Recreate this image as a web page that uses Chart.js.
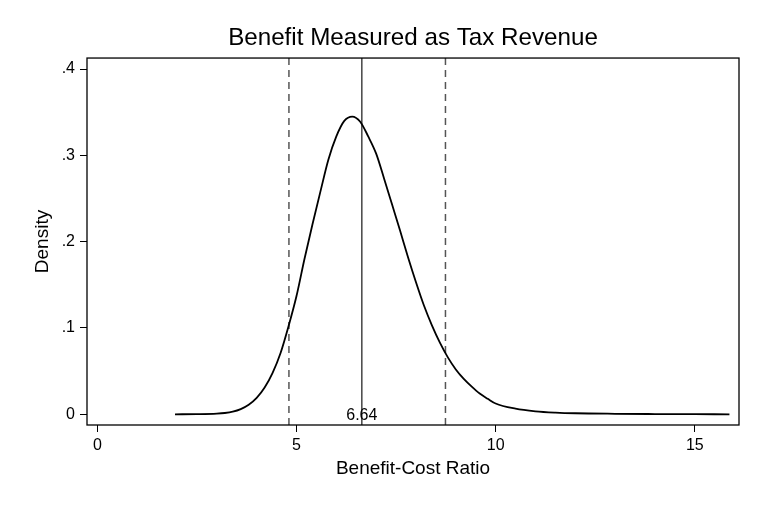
<!DOCTYPE html>
<html>
<head>
<meta charset="utf-8">
<script src="https://cdn.jsdelivr.net/npm/chart.js@4.4.1/dist/chart.umd.min.js"></script>
<style>
  html, body { margin: 0; padding: 0; background: #fff; }
  #wrap { width: 759px; height: 507px; }
</style>
</head>
<body>
<div id="wrap"><canvas id="c" width="759" height="507"></canvas></div>
<script>
// ---- data ----
const curveX = [1.95, 2.5, 3.0, 3.2, 3.4, 3.6, 3.8, 4.0, 4.2, 4.4, 4.6, 4.8, 5.0, 5.2, 5.4, 5.6, 5.8, 6.0, 6.2, 6.4, 6.6, 6.8, 7.0, 7.2, 7.4, 7.6, 7.8, 8.0, 8.2, 8.4, 8.6, 8.8, 9.0, 9.2, 9.4, 9.6, 9.8, 10.0, 10.5, 11.0, 11.5, 12.0, 13.0, 14.0, 15.0, 15.87];
const curveY = [0, 0.0002, 0.0008, 0.0015, 0.003, 0.006, 0.011, 0.019, 0.031, 0.048, 0.071, 0.102, 0.137, 0.180, 0.220, 0.258, 0.295, 0.322, 0.340, 0.345, 0.339, 0.322, 0.302, 0.273, 0.243, 0.213, 0.182, 0.153, 0.126, 0.103, 0.083, 0.066, 0.052, 0.041, 0.032, 0.024, 0.018, 0.0125, 0.0065, 0.0035, 0.002, 0.0012, 0.0006, 0.0003, 0.0001, 0];
const ciLower = 4.81;
const meanValue = 6.64;
const ciUpper = 8.74;
const meanLabel = "6.64";
const xTicks = [0, 5, 10, 15];
const yTicks = [0, 0.1, 0.2, 0.3, 0.4];
const yTickLabels = ["0", ".1", ".2", ".3", ".4"];
const xRange = [-0.26, 16.11];
const yRange = [-0.0124, 0.4128];
const titleText = "Benefit Measured as Tax Revenue";
const xTitle = "Benefit-Cost Ratio";
const yTitle = "Density";

const FONT = "'Liberation Sans', Arial, Helvetica, sans-serif";

const vline = (x, dashed, color) => ({
  data: [{x: x, y: yRange[0]}, {x: x, y: yRange[1]}],
  borderColor: color,
  borderWidth: 1.5,
  borderDash: dashed ? [7, 5] : [],
  pointRadius: 0,
  fill: false,
  tension: 0
});

const framePlugin = {
  id: 'frame',
  afterDatasetsDraw(chart) {
    const {ctx, chartArea: a, scales} = chart;
    ctx.save();
    ctx.strokeStyle = '#000';
    ctx.lineWidth = 1.3;
    ctx.strokeRect(a.left, a.top, a.right - a.left, a.bottom - a.top);
    ctx.fillStyle = '#000';
    ctx.font = "16px " + FONT;
    ctx.textAlign = 'center';
    ctx.textBaseline = 'middle';
    ctx.fillText(meanLabel, scales.x.getPixelForValue(meanValue), scales.y.getPixelForValue(0) + 1);
    ctx.restore();
  }
};

new Chart(document.getElementById('c'), {
  type: 'line',
  data: {
    datasets: [
      {
        data: curveX.map((x, i) => ({x: x, y: curveY[i]})),
        borderColor: '#000',
        borderWidth: 1.8,
        pointRadius: 0,
        fill: false,
        cubicInterpolationMode: 'monotone'
      },
      vline(ciLower, true, '#555'),
      vline(meanValue, false, '#444'),
      vline(ciUpper, true, '#555')
    ]
  },
  options: {
    responsive: false,
    animation: false,
    devicePixelRatio: 1,
    layout: { padding: { left: 0, right: 20, top: 0, bottom: 0 } },
    plugins: {
      legend: { display: false },
      tooltip: { enabled: false },
      title: {
        display: true,
        text: titleText,
        fullSize: false,
        color: '#000',
        font: { family: FONT, size: 24.2, weight: 'normal' },
        padding: { top: 24, bottom: 5 }
      }
    },
    scales: {
      x: {
        type: 'linear',
        min: xRange[0],
        max: xRange[1],
        afterBuildTicks: (s) => { s.ticks = xTicks.map(v => ({value: v})); },
        afterFit: (s) => { s.height = 82; },
        border: { display: false },
        grid: { drawOnChartArea: false, drawTicks: true, tickLength: 7, color: '#000', lineWidth: 1 },
        ticks: { color: '#000', font: { family: FONT, size: 16 }, padding: 4, maxRotation: 0,
                 callback: (v) => String(v) },
        title: { display: true, text: xTitle, color: '#000',
                 font: { family: FONT, size: 19 }, padding: { top: 0, bottom: 26.6 } }
      },
      y: {
        type: 'linear',
        min: yRange[0],
        max: yRange[1],
        afterBuildTicks: (s) => { s.ticks = yTicks.map(v => ({value: v})); },
        afterFit: (s) => { s.width = 87; },
        border: { display: false },
        grid: { drawOnChartArea: false, drawTicks: true, tickLength: 7, color: '#000', lineWidth: 1 },
        ticks: { color: '#000', font: { family: FONT, size: 16 }, padding: 5,
                 callback: (v) => { const i = yTicks.findIndex(t => Math.abs(t - v) < 1e-9); return i >= 0 ? yTickLabels[i] : ''; } },
        title: { display: true, text: yTitle, color: '#000',
                 font: { family: FONT, size: 19 }, padding: { top: 31, bottom: 0 } }
      }
    }
  },
  plugins: [framePlugin]
});
</script>
</body>
</html>
